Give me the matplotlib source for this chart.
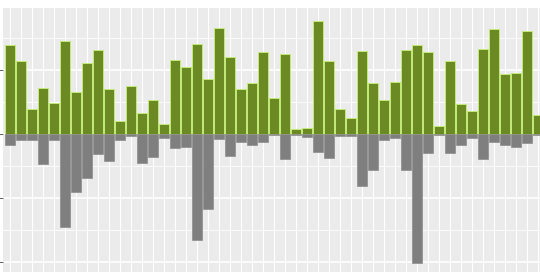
import numpy as np
from matplotlib import pyplot as plt
from matplotlib.ticker import MultipleLocator

# values (one unit = one major grid step)
gains = [1.39, 1.14, 0.39, 0.72, 0.48, 1.45, 0.66, 1.11, 1.31, 0.70,
         0.20, 0.75, 0.33, 0.53, 0.16, 1.16, 1.05, 1.41, 0.86, 1.66,
         1.20, 0.70, 0.80, 1.28, 0.56, 1.25, 0.07, 0.09, 1.77, 1.14,
         0.39, 0.25, 1.30, 0.80, 0.53, 0.81, 1.31, 1.39, 1.28, 0.13,
         1.14, 0.47, 0.36, 1.33, 1.64, 0.94, 0.95, 1.61, 0.30]
losses = [-0.18, -0.10, -0.10, -0.47, -0.09, -1.45, -0.91, -0.69, -0.31, -0.42,
          -0.10, -0.04, -0.45, -0.36, -0.06, -0.22, -0.20, -1.66, -1.17, -0.08,
          -0.34, -0.12, -0.17, -0.13, -0.01, -0.39, -0.01, -0.05, -0.28, -0.38,
          -0.03, -0.03, -0.81, -0.56, -0.10, -0.07, -0.56, -2.02, -0.30, -0.01,
          -0.30, -0.18, -0.06, -0.39, -0.13, -0.18, -0.20, -0.14, -0.01]

x = np.arange(len(gains))

fig = plt.figure(figsize=(5.4, 2.72), dpi=100)
ax = fig.add_axes([3 / 540, 0, 537 / 540, 264 / 272])
ax.set_facecolor('#ebebeb')

ax.bar(x, gains, width=0.9, color='#6b8a23', edgecolor='#c2ea78', linewidth=0.7, zorder=3)
ax.bar(x, losses, width=0.9, color='#7f7f7f', edgecolor='#8c8c8c', linewidth=0.5, zorder=3)

ax.set_xlim(-0.61, 48.2)
ax.set_ylim(-2.16, 1.97)

ax.yaxis.set_major_locator(MultipleLocator(1))
ax.yaxis.set_minor_locator(MultipleLocator(0.5))
ax.xaxis.set_major_locator(MultipleLocator(1))
ax.grid(which='major', axis='y', color='white', linewidth=1.2, zorder=0)
ax.grid(which='minor', axis='y', color='white', linewidth=0.6, zorder=0)
ax.grid(which='major', axis='x', color='white', linewidth=0.8, zorder=0)
ax.set_axisbelow(True)

for s in ax.spines.values():
    s.set_visible(False)
ax.tick_params(axis='y', which='major', length=3, width=0.6, color='#444444', labelleft=False)
ax.tick_params(axis='y', which='minor', length=0)
ax.tick_params(axis='x', length=0, labelbottom=False)

fig.savefig('out.png', dpi=100)
